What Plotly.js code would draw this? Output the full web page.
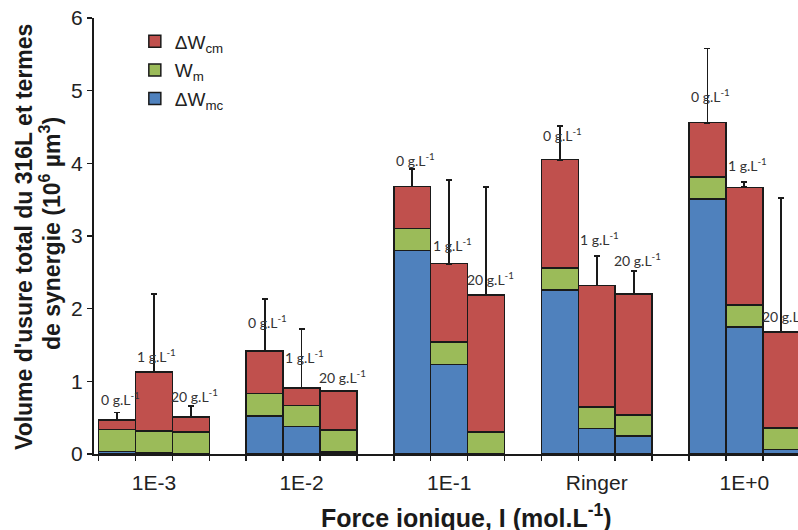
<!DOCTYPE html>
<html><head><meta charset="utf-8">
<script src="https://cdn.plot.ly/plotly-3.0.1.min.js"></script>
<style>html,body{margin:0;padding:0;background:#fff}#chart{width:798px;height:530px}</style>
</head><body><div id="chart"></div>
<script>
// Categories and concentrations
const groups = ["1E-3", "1E-2", "1E-1", "Ringer", "1E+0"];
const concentrations = ["0 g.L<sup>-1</sup>", "1 g.L<sup>-1</sup>", "20 g.L<sup>-1</sup>"];
// Values per bar (group-major order: 1E-3 [0,1,20], 1E-2 [0,1,20], ...)
const dWmc = [0.035, 0.02, 0.01,  0.52, 0.376, 0.03,  2.80, 1.23, 0.0,  2.26, 0.35, 0.25,  3.51, 1.75, 0.065];
const Wm   = [0.305, 0.30, 0.29,  0.31, 0.294, 0.30,  0.30, 0.31, 0.30, 0.30, 0.30, 0.29,  0.30, 0.30, 0.295];
const dWcm = [0.13, 0.81, 0.21,   0.59, 0.24, 0.54,   0.58, 1.08, 1.89, 1.49, 1.67, 1.66,   0.75, 1.62, 1.32];
const errUp = [0.10, 1.07, 0.155, 0.71, 0.81, 0.0,   0.24, 1.15, 1.48, 0.46, 0.40, 0.32,   1.02, 0.07, 1.84];
// Label heights (layout positions of the "x g.L-1" annotations, in axis units)
const labelY = [0.77, 1.36, 0.81,  1.82, 1.34, 1.06,  4.05, 2.88, 2.42,  4.39, 2.97, 2.67,  4.93, 3.98, 1.91];

const xs = [];
for (let g = 0; g < groups.length; g++) for (let k = 0; k < 3; k++) xs.push(4 * g + k);

const lineStyle = {color: '#1a1a1a', width: 1.5};
const traces = [
  {type: 'bar', name: 'ΔW<sub>mc</sub>', x: xs, y: dWmc, width: 1, legendgroup: 'c',
   marker: {color: '#4F81BD', line: lineStyle}, legendrank: 3},
  {type: 'bar', name: 'W<sub>m</sub>', x: xs, y: Wm, width: 1, legendgroup: 'b',
   marker: {color: '#9BBB59', line: lineStyle}, legendrank: 2},
  {type: 'bar', name: 'ΔW<sub>cm</sub>', x: xs, y: dWcm, width: 1, legendgroup: 'a',
   marker: {color: '#C0504D', line: lineStyle}, legendrank: 1,
   error_y: {type: 'data', symmetric: false, array: errUp, arrayminus: errUp.map(() => 0),
             color: '#1a1a1a', thickness: 1.8, width: 3}}
];

const tickvals = groups.map((_, g) => 4 * g + 1);

const annotations = xs.map((x, i) => ({
  x: x, y: labelY[i], xref: 'x', yref: 'y', text: concentrations[i % 3],
  showarrow: false, xshift: (i % 3 === 2) ? 4 : 3,
  font: {family: 'Lato, Open Sans, sans-serif', size: 14, color: '#333'}
}));
const boldFont = (s) => ({family: 'Liberation Sans, Arial, sans-serif', size: s, color: '#1a1a1a'});
annotations.push({
  xref: 'paper', yref: 'paper', x: (466 - 94) / 704, y: (454 - 516) / 436, yanchor: 'middle', xanchor: 'center',
  text: '<b>Force ionique, I (mol.L<sup>-1</sup>)</b>', showarrow: false, font: boldFont(25)
});
annotations.push({
  xref: 'paper', yref: 'paper', x: (24 - 94) / 704, y: (454 - 237) / 436, xanchor: 'center', yanchor: 'middle',
  textangle: -90, text: '<b>Volume d\'usure total du 316L et termes</b>', showarrow: false, font: boldFont(23)
});
annotations.push({
  xref: 'paper', yref: 'paper', x: (50 - 94) / 704, y: (454 - 234) / 436, xanchor: 'center', yanchor: 'middle',
  textangle: -90, text: '<b>de synergie (10<sup>6</sup> µm<sup>3</sup>)</b>', showarrow: false, font: boldFont(23)
});

const layout = {
  width: 798, height: 530,
  margin: {l: 94, r: 0, t: 18, b: 76},
  paper_bgcolor: '#fff', plot_bgcolor: '#fff',
  barmode: 'stack', bargap: 0,
  showlegend: true,
  legend: {x: 0.058, y: 0.99, xanchor: 'left', yanchor: 'top', traceorder: 'grouped',
           bgcolor: 'rgba(0,0,0,0)', tracegroupgap: 1,
           font: {family: 'Liberation Sans, Arial, sans-serif', size: 19, color: '#222'}},
  font: {family: 'Liberation Sans, Arial, sans-serif', color: '#222'},
  xaxis: {range: [-0.625, 18.455], tickmode: 'array', tickvals: tickvals, ticktext: groups,
          ticks: '', ticklabelstandoff: 9,
          minor: {tickmode: 'linear', tick0: -0.5, dtick: 1, ticks: 'outside', ticklen: 5, tickwidth: 1.5, tickcolor: '#1a1a1a', showgrid: false},
          showline: true, linecolor: '#1a1a1a', linewidth: 2, showgrid: false, zeroline: false,
          tickfont: {size: 21, color: '#222'}},
  yaxis: {range: [0, 6], dtick: 1, ticks: 'outside', ticklen: 5, tickwidth: 1.5, tickcolor: '#1a1a1a',
          showline: true, linecolor: '#1a1a1a', linewidth: 2, showgrid: false, zeroline: false,
          tickfont: {size: 21, color: '#222'}},
  annotations: annotations
};

Plotly.newPlot('chart', traces, layout, {displayModeBar: false, staticPlot: true});
</script></body></html>
